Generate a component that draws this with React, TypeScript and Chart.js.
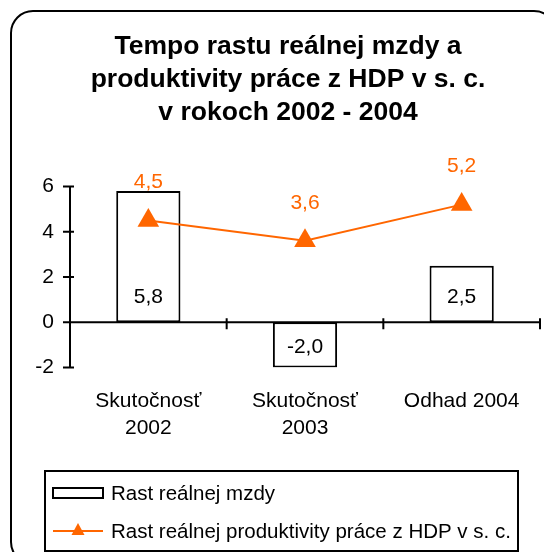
import React, { useEffect, useRef } from 'react';
import { Chart, registerables } from 'chart.js';

Chart.register(...registerables);

// ---- data ----
const categories: string[][] = [['Skutočnosť', '2002'], ['Skutočnosť', '2003'], ['Odhad 2004']];
const wageGrowth: number[] = [5.8, -2.0, 2.5];
const productivityGrowth: number[] = [4.5, 3.6, 5.2];
const yMin = -2;
const yMax = 6;
const yStep = 2;
const titleLines: string[] = ['Tempo rastu reálnej mzdy a', 'produktivity práce z HDP v s. c.', 'v rokoch 2002 - 2004'];
const seriesNames: string[] = ['Rast reálnej mzdy', 'Rast reálnej produktivity práce z HDP v s. c.'];

const ORANGE = '#FF6600';
const FONT = '"Liberation Sans", Arial, Helvetica, sans-serif';
const fmt = (v: number) => v.toFixed(1).replace('.', ',');

const framePlugin = {
  id: 'frame',
  beforeDraw(chart: any) {
    const ctx = chart.ctx;
    ctx.save();
    ctx.fillStyle = '#ffffff';
    ctx.fillRect(0, 0, chart.width, chart.height);
    ctx.strokeStyle = '#000000';
    ctx.lineWidth = 2;
    ctx.beginPath();
    ctx.roundRect(11, 11, 545, 553, 22);
    ctx.stroke();
    ctx.restore();
  },
};

const axesPlugin = {
  id: 'customAxes',
  afterDatasetsDraw(chart: any) {
    const ctx = chart.ctx;
    const x = chart.scales.x;
    const y = chart.scales.y;
    const area = chart.chartArea;
    const zeroY = y.getPixelForValue(0);
    ctx.save();
    ctx.strokeStyle = '#000000';
    ctx.lineWidth = 2;
    ctx.beginPath();
    // y axis
    ctx.moveTo(area.left, area.top);
    ctx.lineTo(area.left, area.bottom);
    // y ticks
    y.ticks.forEach((t: any) => {
      const py = y.getPixelForValue(t.value);
      ctx.moveTo(area.left - 7, py);
      ctx.lineTo(area.left + 4, py);
    });
    // x axis at zero
    ctx.moveTo(area.left, zeroY);
    ctx.lineTo(area.right, zeroY);
    // x tick marks at category boundaries
    const n = categories.length;
    const step = x.getPixelForValue(1) - x.getPixelForValue(0);
    for (let i = 0; i < n; i++) {
      const px = x.getPixelForValue(i) + step / 2;
      ctx.moveTo(px, zeroY - 4);
      ctx.lineTo(px, zeroY + 7);
    }
    ctx.stroke();
    ctx.restore();
  },
};

const labelsPlugin = {
  id: 'valueLabels',
  afterDraw(chart: any) {
    const ctx = chart.ctx;
    const y = chart.scales.y;
    const zeroY = y.getPixelForValue(0);
    ctx.save();
    ctx.font = `21px ${FONT}`;
    ctx.textAlign = 'center';
    ctx.textBaseline = 'middle';
    const barMeta = chart.getDatasetMeta(1);
    barMeta.data.forEach((el: any, i: number) => {
      const v = wageGrowth[i];
      ctx.fillStyle = '#000000';
      ctx.fillText(fmt(v), el.x, v >= 0 ? zeroY - 25 : zeroY + 25);
    });
    const lineMeta = chart.getDatasetMeta(0);
    lineMeta.data.forEach((el: any, i: number) => {
      ctx.fillStyle = ORANGE;
      ctx.fillText(fmt(productivityGrowth[i]), el.x, el.y - 38);
    });
    ctx.restore();
  },
};

const legendPlugin = {
  id: 'customLegend',
  afterDraw(chart: any) {
    const ctx = chart.ctx;
    ctx.save();
    ctx.fillStyle = '#ffffff';
    ctx.fillRect(45, 471, 473, 80);
    ctx.strokeStyle = '#000000';
    ctx.lineWidth = 2;
    ctx.strokeRect(45, 471, 473, 80);
    // item 1
    ctx.lineWidth = 2;
    ctx.strokeRect(53, 488, 50, 10);
    // item 2
    ctx.strokeStyle = ORANGE;
    ctx.beginPath();
    ctx.moveTo(53, 531);
    ctx.lineTo(103, 531);
    ctx.stroke();
    ctx.fillStyle = ORANGE;
    ctx.beginPath();
    ctx.moveTo(78, 523);
    ctx.lineTo(84.5, 535);
    ctx.lineTo(71.5, 535);
    ctx.closePath();
    ctx.fill();
    ctx.fillStyle = '#000000';
    ctx.font = `20.5px ${FONT}`;
    ctx.textAlign = 'left';
    ctx.textBaseline = 'middle';
    ctx.fillText(seriesNames[0], 111, 494);
    ctx.fillText(seriesNames[1], 111, 532);
    ctx.restore();
  },
};

export default function App() {
  const ref = useRef<HTMLCanvasElement | null>(null);
  useEffect(() => {
    if (!ref.current) return;
    const chart = new Chart(ref.current, {
      type: 'bar',
      data: {
        labels: categories as any,
        datasets: [
          {
            type: 'line',
            label: seriesNames[1],
            data: productivityGrowth,
            borderColor: ORANGE,
            backgroundColor: ORANGE,
            borderWidth: 2,
            pointStyle: 'triangle',
            pointRadius: 12.5,
            pointBackgroundColor: ORANGE,
            pointBorderColor: ORANGE,
            pointBorderWidth: 0,
            tension: 0,
            clip: false,
            order: 0,
          } as any,
          {
            type: 'bar',
            label: seriesNames[0],
            data: wageGrowth,
            backgroundColor: '#ffffff',
            borderColor: '#000000',
            borderWidth: 2,
            borderSkipped: false,
            barPercentage: 0.41,
            categoryPercentage: 1,
            order: 1,
          } as any,
        ],
      },
      options: {
        responsive: false,
        animation: false,
        layout: { autoPadding: false, padding: { left: 36, right: 4, top: 0, bottom: 0 } },
        plugins: {
          legend: { display: false },
          tooltip: { enabled: false },
          title: {
            display: true,
            text: titleLines,
            color: '#000000',
            font: { family: FONT, size: 26.5, weight: 'bold', lineHeight: '33px' as any },
            padding: { top: 30.5, bottom: 57 },
          },
        },
        scales: {
          x: {
            offset: true,
            grid: { display: false, drawTicks: false },
            border: { display: false },
            ticks: {
              color: '#000000',
              font: { family: FONT, size: 21, lineHeight: '27px' as any },
              padding: 20,
              maxRotation: 0,
              autoSkip: false,
            },
            afterFit: (scale: any) => {
              scale.height = 184.5;
            },
          },
          y: {
            min: yMin,
            max: yMax,
            grid: { display: false, drawTicks: false },
            border: { display: false },
            ticks: {
              stepSize: yStep,
              color: '#000000',
              font: { family: FONT, size: 21 },
              padding: 16,
              callback: (v: any) => String(v),
            },
            afterFit: (scale: any) => {
              scale.width = 34;
            },
          },
        },
      },
      plugins: [framePlugin, axesPlugin, labelsPlugin, legendPlugin],
    });
    return () => chart.destroy();
  }, []);
  return (
    <div style={{ position: 'fixed', left: 0, top: 0, width: 544, height: 552 }}>
      <canvas ref={ref} width={544} height={552} style={{ display: 'block' }} />
    </div>
  );
}
